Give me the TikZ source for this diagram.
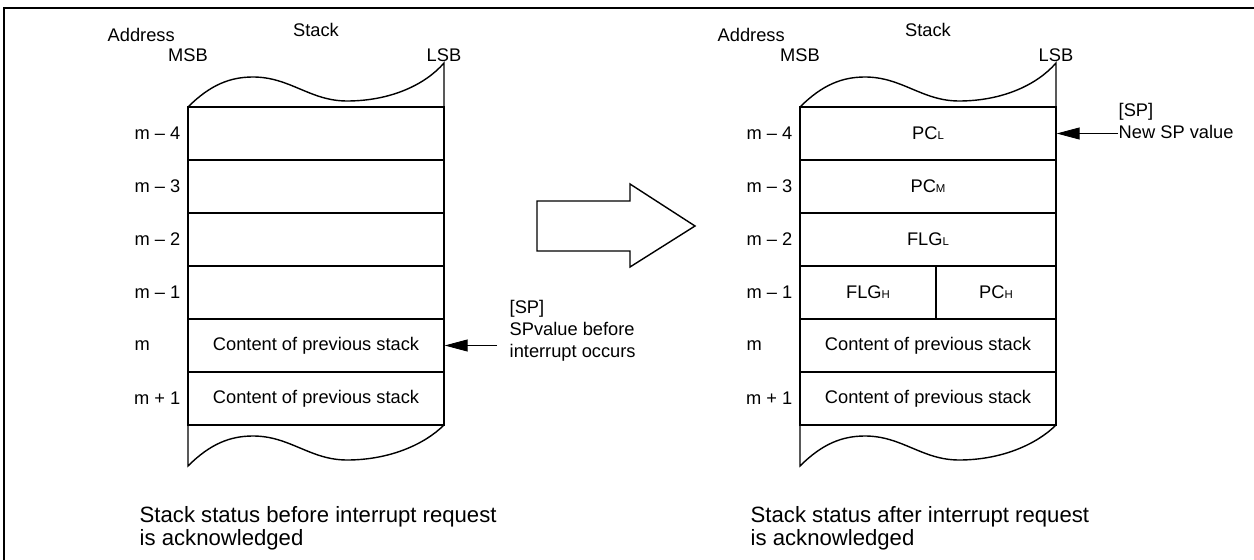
\documentclass[tikz,border=0pt]{standalone}
\usepackage{fontspec}
\setmainfont{Liberation Sans}
\usepackage{tikz}
\usetikzlibrary{arrows.meta}

\newcommand{\subl}[1]{{\fontsize{6.5}{7}\selectfont #1}}

\tikzset{
  cell/.style={draw, minimum width=5.12cm, minimum height=1.06cm, inner sep=0pt,
    font=\fontsize{10.4}{12.5}\selectfont},
  lbl/.style={inner sep=0pt, font=\fontsize{10.4}{12.5}\selectfont},
  caption/.style={inner sep=0pt, anchor=west, align=left,
    font=\fontsize{12.6}{13.2}\selectfont},
  ptr/.style={line width=0.5pt, -{Triangle[length=0.46cm,width=0.24cm]}}
}

\begin{document}
\begin{tikzpicture}[x=0.02cm, y=-0.02cm, line width=0.8pt]
\useasboundingbox (0,0) rectangle (1254,560);
\draw [line width=1.4pt] (4,560)--(4,8)--(1254,8);

% stack before
\draw (188,107) .. controls (210,85) and (230,77) .. (253,77)
  .. controls (290,77) and (310,101) .. (347,101)
  .. controls (390,101) and (425,85) .. (444,63) -- (444,107);
\draw (444,425) .. controls (425,444) and (390,460) .. (347,460)
  .. controls (310,460) and (290,436) .. (253,436)
  .. controls (230,436) and (210,444) .. (188,466) -- (188,425);

\node [cell] (a4) at (316,133.5) {};
\node [cell] (a3) at (316,186.5) {};
\node [cell] (a2) at (316,239.5) {};
\node [cell] (a1) at (316,292.5) {};
\node [cell] (a0) at (316,345.5) {Content of previous stack};
\node [cell] (ap) at (316,398.5) {Content of previous stack};

\node [lbl, anchor=west] (addra) at (107,35) {Address};
\node [lbl] (stacka) at (316,30) {Stack};
\node [lbl] (msba) at (188,55) {MSB};
\node [lbl] (lsba) at (444,55) {LSB};
\node [lbl, anchor=east] (la4) at (181,133.5) {m – 4};
\node [lbl, anchor=east] (la3) at (181,186.5) {m – 3};
\node [lbl, anchor=east] (la2) at (181,239.5) {m – 2};
\node [lbl, anchor=east] (la1) at (181,292.5) {m – 1};
\node [lbl, anchor=west] (la0) at (134,345.5) {m};
\node [lbl, anchor=east] (lap) at (181,398.5) {m + 1};

\node [lbl, anchor=west, align=left] (spold) at (509,331) {[SP]\\SPvalue before\\interrupt occurs};
\coordinate (spoldend) at (497,345.5);
\draw [ptr] (spoldend) -- (a0.east);

\node [caption] (capa) at (139,528) {Stack status before interrupt request\\is acknowledged};

% big arrow
\draw (537,201)--(630,201)--(630,184)--(695,226)--(630,267)--(630,251)--(537,251)--cycle;

% stack after
\draw (800,107) .. controls (822,85) and (842,77) .. (865,77)
  .. controls (902,77) and (922,101) .. (959,101)
  .. controls (1002,101) and (1037,85) .. (1056,63) -- (1056,107);
\draw (1056,425) .. controls (1037,444) and (1002,460) .. (959,460)
  .. controls (922,460) and (902,436) .. (865,436)
  .. controls (842,436) and (822,444) .. (800,466) -- (800,425);

\node [cell] (b4) at (928,133.5) {PC\subl{L}};
\node [cell] (b3) at (928,186.5) {PC\subl{M}};
\node [cell] (b2) at (928,239.5) {FLG\subl{L}};
\node [cell, minimum width=2.72cm] (b1l) at (868,292.5) {FLG\subl{H}};
\node [cell, minimum width=2.4cm] (b1r) at (996,292.5) {PC\subl{H}};
\node [cell] (b0) at (928,345.5) {Content of previous stack};
\node [cell] (bp) at (928,398.5) {Content of previous stack};

\node [lbl, anchor=west] (addrb) at (717,35) {Address};
\node [lbl] (stackb) at (928,30) {Stack};
\node [lbl] (msbb) at (800,55) {MSB};
\node [lbl] (lsbb) at (1056,55) {LSB};
\node [lbl, anchor=east] (lb4) at (793,133.5) {m – 4};
\node [lbl, anchor=east] (lb3) at (793,186.5) {m – 3};
\node [lbl, anchor=east] (lb2) at (793,239.5) {m – 2};
\node [lbl, anchor=east] (lb1) at (793,292.5) {m – 1};
\node [lbl, anchor=west] (lb0) at (746,345.5) {m};
\node [lbl, anchor=east] (lbp) at (793,398.5) {m + 1};

\node [lbl, anchor=west, align=left] (spnew) at (1118,121) {[SP]\\New SP value};
\draw [ptr] (spnew.west |- b4.east) -- (b4.east);

\node [caption] (capb) at (750,528) {Stack status after interrupt request\\is acknowledged};
\end{tikzpicture}
\end{document}
